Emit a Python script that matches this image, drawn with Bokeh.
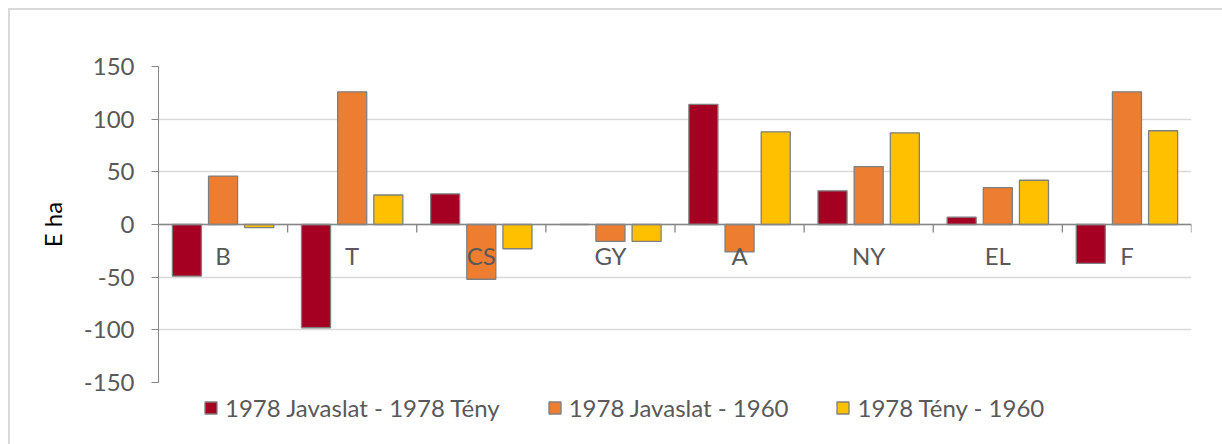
from bokeh.plotting import figure
from bokeh.layouts import column
from bokeh.models import (ColumnDataSource, FactorRange, FixedTicker, Span, Legend, LegendItem)
from bokeh.transform import dodge
from bokeh.core.properties import value
from bokeh.embed import file_html
from bokeh.resources import INLINE

categories = ["B", "T", "CS", "GY", "A", "NY", "EL", "F"]
series_names = ["1978 Javaslat - 1978 Tény", "1978 Javaslat - 1960", "1978 Tény - 1960"]
javaslat_teny = [-49, -98, 29, 0, 114, 32, 7, -37]
javaslat_1960 = [46, 126, -52, -16, -26, 55, 35, 126]
teny_1960 = [-3, 28, -23, -16, 88, 87, 42, 89]
y_ticks = [-150, -100, -50, 0, 50, 100, 150]

colors = ["#A50021", "#ED7D31", "#FFC000"]
FONT = "Lato"
TXT = "#595959"
FS = "24px"

src = ColumnDataSource(dict(cat=categories, s1=javaslat_teny, s2=javaslat_1960, s3=teny_1960))

p = figure(width=1212, height=386, x_range=FactorRange(*categories), y_range=(-150, 150),
           output_backend="svg", toolbar_location=None,
           min_border_left=148, min_border_right=31, min_border_top=56, min_border_bottom=14)
p.outline_line_color = None
p.xaxis.visible = False
p.xgrid.grid_line_color = None
p.ygrid.grid_line_color = "#d9d9d9"
p.ygrid.grid_line_width = 1.3
p.yaxis.ticker = FixedTicker(ticks=y_ticks)
p.yaxis.major_label_overrides = {t: str(t) for t in y_ticks}
p.yaxis.minor_tick_line_color = None
p.yaxis.major_tick_in = 0
p.yaxis.major_tick_out = 7
p.yaxis.axis_line_color = "#868686"
p.yaxis.major_tick_line_color = "#868686"
p.yaxis.major_label_text_font = FONT
p.yaxis.major_label_text_font_size = FS
p.yaxis.major_label_text_color = TXT
p.yaxis.major_label_standoff = 17
p.yaxis.axis_label = "E ha"
p.yaxis.axis_label_text_font = FONT
p.yaxis.axis_label_text_font_size = FS
p.yaxis.axis_label_text_font_style = "normal"
p.yaxis.axis_label_text_color = "#000000"
p.yaxis.axis_label_standoff = 14

p.add_layout(Span(location=0, dimension="width", line_color="#868686", line_width=1.3))

offsets = [-0.28, 0.0, 0.28]
for key, off, col in zip(["s1", "s2", "s3"], offsets, colors):
    p.vbar(x=dodge("cat", off, range=p.x_range), top=key, bottom=0, width=0.225, source=src,
           fill_color=col, line_color="#7f7f7f", line_width=1.3)

# category boundary tick marks on the zero line
bsrc = ColumnDataSource(dict(cat=categories, zero=[0] * len(categories), low=[-7.5] * len(categories)))
p.segment(x0=dodge("cat", 0.5, range=p.x_range), x1=dodge("cat", 0.5, range=p.x_range),
          y0="zero", y1="low", source=bsrc, line_color="#868686", line_width=1.3)

p.text(x="cat", y="zero", text="cat", source=bsrc, y_offset=31, text_align="center",
       text_baseline="middle", text_font=value(FONT), text_font_size=FS, text_color=TXT)

# legend strip below the chart (hidden swatch renderers only feed the legend);
# transparent and pulled up slightly so its text has room
lg = figure(width=1212, height=58, x_range=(0, 1), y_range=(0, 1), output_backend="svg",
            toolbar_location=None, min_border_left=148, min_border_right=31,
            min_border_top=0, min_border_bottom=0)
lg.outline_line_color = None
lg.background_fill_alpha = 0
lg.border_fill_alpha = 0
lg.axis.visible = False
lg.grid.visible = False
lg.styles = {"margin-top": "-10px"}
swatch = ColumnDataSource(dict(x=[0.5], top=[0.5]))
lrs = [lg.vbar(x="x", top="top", bottom=0, width=0.1, source=swatch, fill_color=c,
               line_color="#7f7f7f", line_width=1.3, visible=False) for c in colors]
legend = Legend(items=[LegendItem(label=n, renderers=[r]) for n, r in zip(series_names, lrs)],
                orientation="horizontal", location=(45, 22), padding=0, margin=0, spacing=47,
                label_standoff=7, glyph_width=15, glyph_height=15, label_height=15,
                label_text_font=FONT, label_text_font_size=FS, label_text_color=TXT,
                border_line_alpha=0, background_fill_alpha=0, inactive_fill_alpha=0)
lg.add_layout(legend, "center")

layout = column(p, lg, spacing=0,
                styles={"margin-left": "8px", "margin-top": "8px",
                        "border-left": "2px solid #d9d9d9", "border-top": "2px solid #d9d9d9"})
open("out.html", "w").write(file_html(layout, INLINE))
